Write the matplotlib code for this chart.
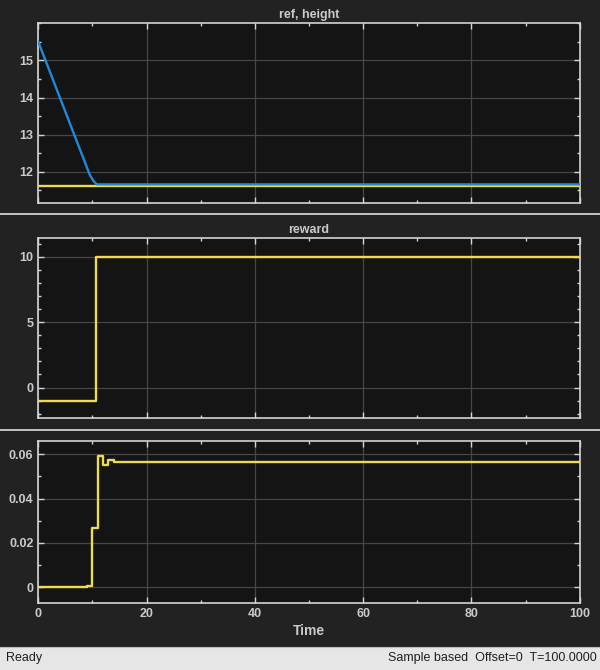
import matplotlib
matplotlib.use("Agg")
import matplotlib.pyplot as plt
from matplotlib.ticker import MultipleLocator
from matplotlib.lines import Line2D
from matplotlib.patches import Rectangle

plt.rcParams['font.family'] = ['Liberation Sans', 'DejaVu Sans']

# ---- data ----
t_height = [0, 9.5, 10.2, 10.8, 100]
height = [15.5, 11.92, 11.75, 11.66, 11.66]
t_ref = [0, 100]
ref = [11.61, 11.61]

t_reward = [0, 10.6, 100]
reward = [-1, 10, 10]

t_u = [0, 9.0, 9.9, 10.96, 12.0, 12.86, 13.97, 14.89, 100]
u = [0, 0.0006, 0.0266, 0.059, 0.0553, 0.0573, 0.0564, 0.0567, 0.0567]

titles = ["ref, height", "reward", ""]
x_ticks = [0, 20, 40, 60, 80, 100]
height_ticks = [12, 13, 14, 15]
reward_ticks = [0, 5, 10]
u_ticks = [0, 0.02, 0.04, 0.06]
u_labels = ['0', '0.02', '0.04', '0.06']

# ---- style ----
FIG_BG = '#222222'
AX_BG = '#141414'
SPINE = '#d4d4d4'
GRID = '#464646'
TXT = '#cacaca'
YEL = '#f0dc4a'
BLU = '#2189d6'

W, H = 600, 670
fig = plt.figure(figsize=(6, 6.7), dpi=100, facecolor=FIG_BG)

def box(top, bottom):
    return [38.3 / W, 1 - bottom / H, (579.7 - 38.3) / W, (bottom - top) / H]

ax1 = fig.add_axes(box(23.3, 203.3))
ax2 = fig.add_axes(box(238.3, 418.3))
ax3 = fig.add_axes(box(440.5, 603))
axes = [ax1, ax2, ax3]

ax1.plot(t_ref, ref, color=YEL, lw=1.7, zorder=3)
ax1.plot(t_height, height, color=BLU, lw=1.7, zorder=4)
ax1.set_ylim(11.15, 16.0)
ax1.set_yticks(height_ticks)
ax1.yaxis.set_minor_locator(MultipleLocator(0.5))

ax2.step(t_reward, reward, where='post', color=YEL, lw=1.7)
ax2.set_ylim(-2.35, 11.41)
ax2.set_yticks(reward_ticks)
ax2.yaxis.set_minor_locator(MultipleLocator(1))

ax3.step(t_u, u, where='post', color=YEL, lw=1.7)
ax3.set_ylim(-0.0072, 0.0662)
ax3.set_yticks(u_ticks)
ax3.set_yticklabels(u_labels)
ax3.yaxis.set_minor_locator(MultipleLocator(0.01))

for ax, title in zip(axes, titles):
    ax.set_facecolor(AX_BG)
    ax.set_xlim(0, 100)
    ax.set_xticks(x_ticks)
    ax.xaxis.set_minor_locator(MultipleLocator(10))
    ax.grid(True, which='major', color=GRID, lw=0.9)
    ax.set_axisbelow(True)
    for s in ax.spines.values():
        s.set_color(SPINE)
        s.set_linewidth(1.2)
    ax.tick_params(which='both', direction='in', top=True, right=True,
                   colors=SPINE, labelcolor=TXT, labelsize=9)
    ax.tick_params(which='major', length=4, width=1)
    ax.tick_params(which='minor', length=2.2, width=1)
    for lab in ax.get_yticklabels():
        lab.set_fontweight('bold')
    if title:
        ax.set_title(title, color=TXT, fontsize=9, fontweight='bold', pad=4)

for ax in (ax1, ax2):
    ax.tick_params(labelbottom=False)
for lab in ax3.get_xticklabels():
    lab.set_fontweight('bold')
ax3.set_xlabel("Time", color=TXT, fontsize=10, fontweight='bold', labelpad=3)

# separators
for y in (214, 429.5):
    fig.add_artist(Line2D([0, 1], [1 - y / H, 1 - y / H], color='#cfcfcf', lw=1.3,
                          transform=fig.transFigure))

# status bar
fig.add_artist(Rectangle((0, 0), 1, 23.5 / H, transform=fig.transFigure,
                         facecolor='#e6e6e6', edgecolor='none'))
fig.add_artist(Line2D([0, 1], [23.5 / H, 23.5 / H], color='#bdbdbd', lw=0.8,
                      transform=fig.transFigure))
fig.text(6 / W, 11.5 / H, "Ready", color='#202020', fontsize=9, va='center', ha='left')
fig.text(597 / W, 11.5 / H, "Sample based  Offset=0  T=100.0000", color='#202020',
         fontsize=9, va='center', ha='right')

fig.savefig("out.png", dpi=100, facecolor=FIG_BG)
